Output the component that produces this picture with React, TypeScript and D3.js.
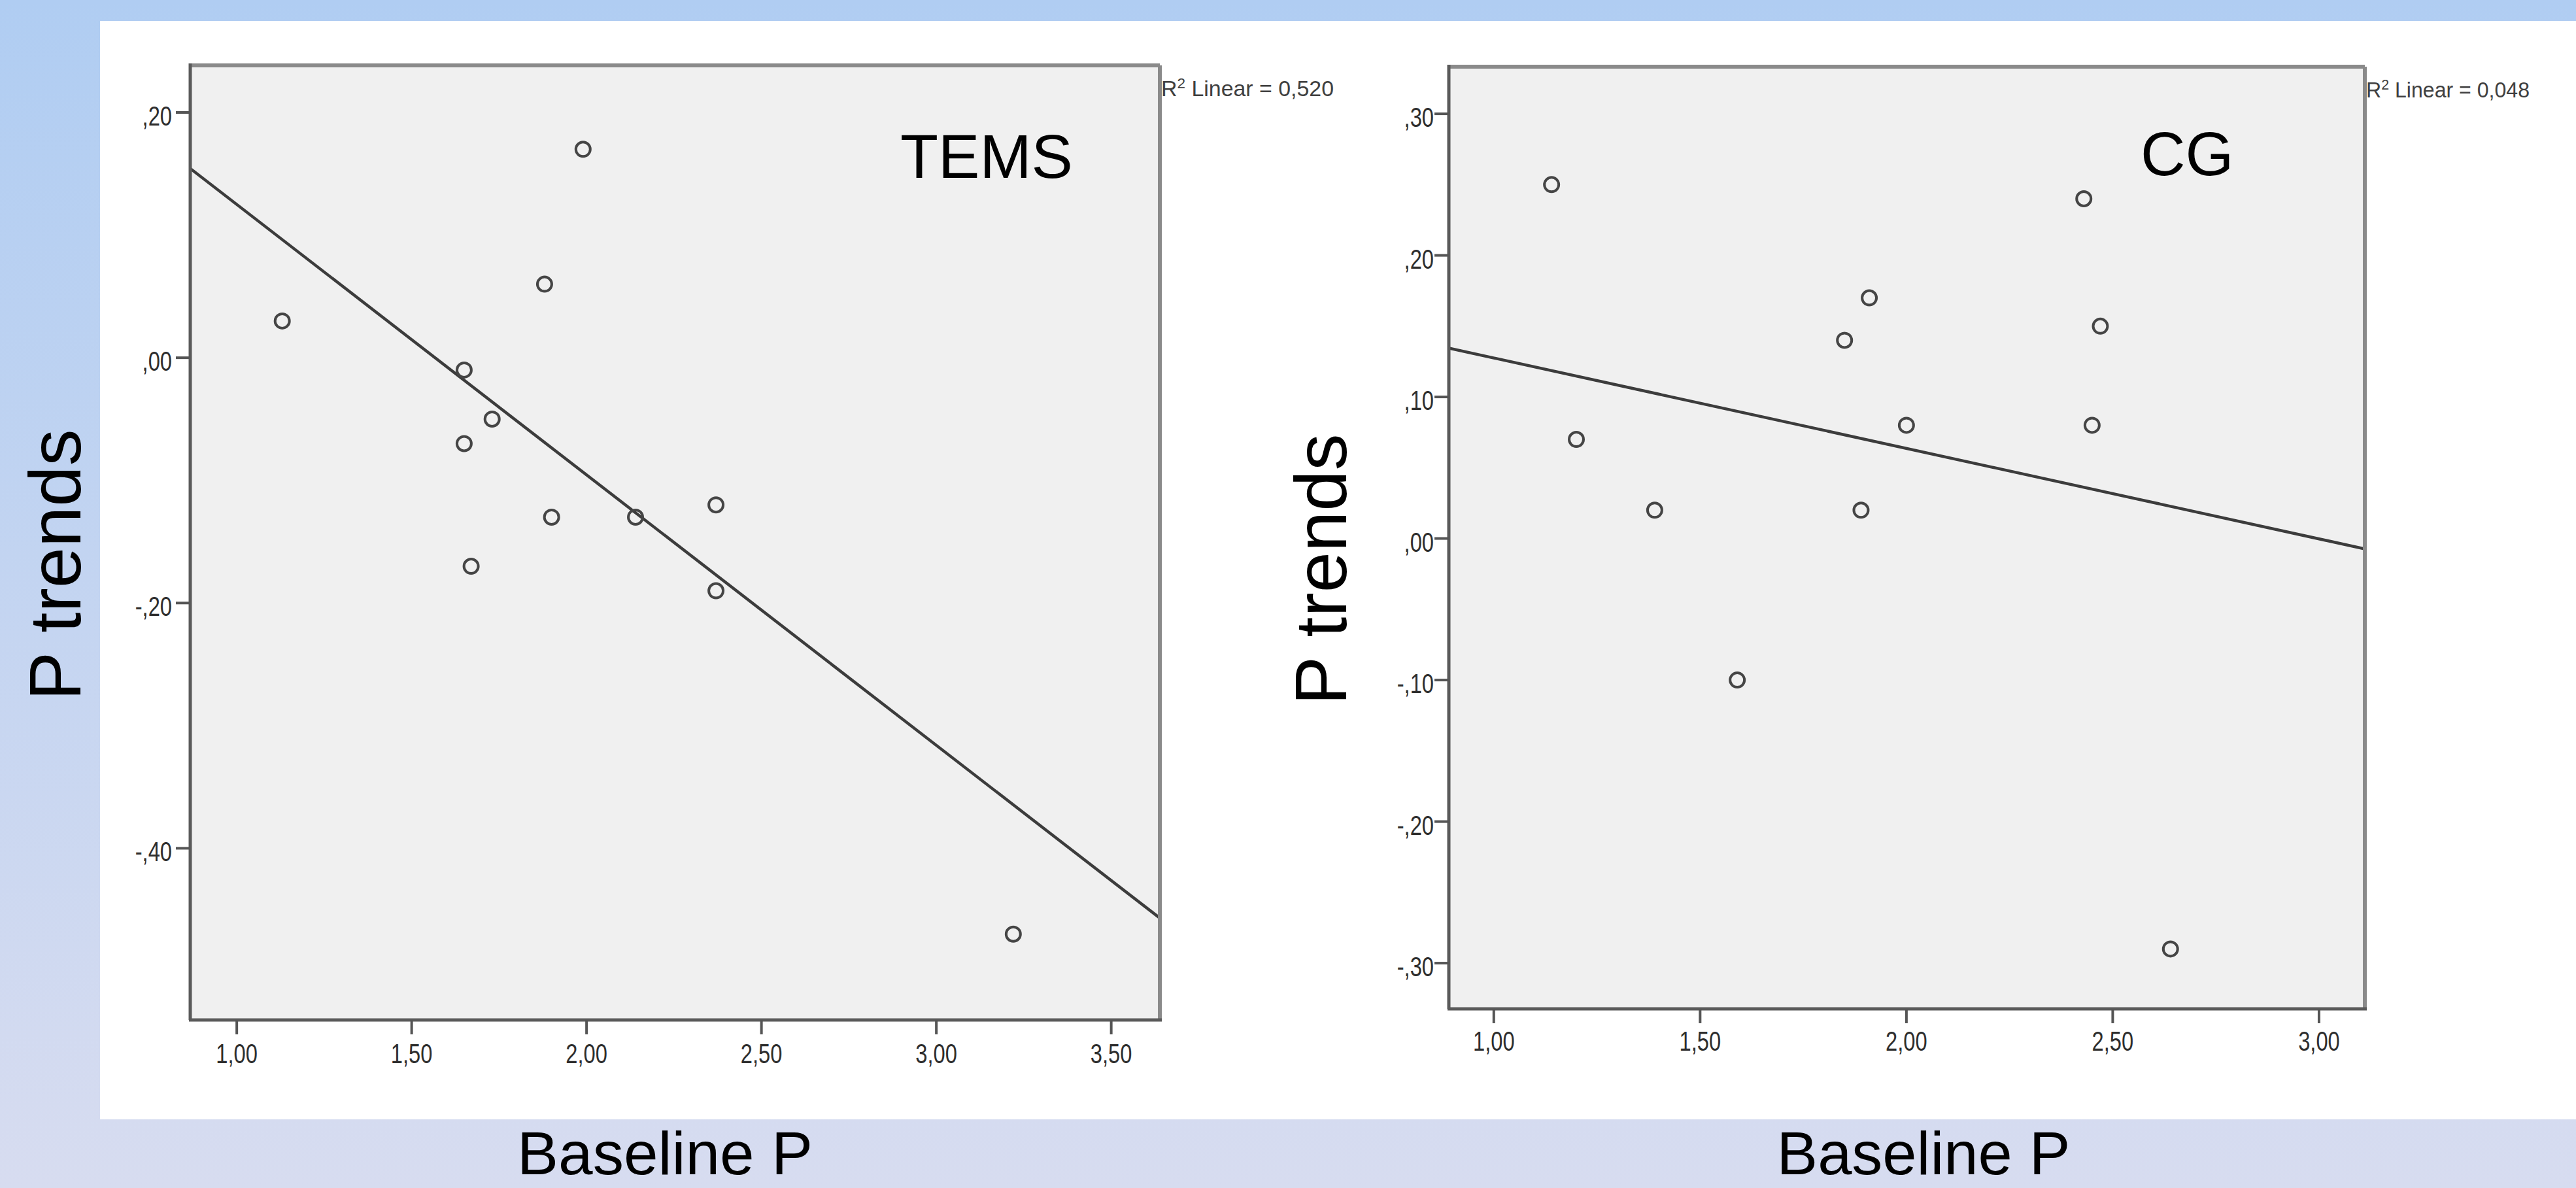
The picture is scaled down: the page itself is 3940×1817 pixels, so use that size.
import React from "react";
import * as d3 from "d3";

// ---- data ----
const temsBaseline = [1.13, 1.65, 1.73, 1.65, 1.88, 1.99, 1.9, 2.14, 1.67, 2.37, 2.37, 3.22];
const temsTrend = [0.03, -0.01, -0.05, -0.07, 0.06, 0.17, -0.13, -0.13, -0.17, -0.12, -0.19, -0.47];
const cgBaseline = [1.14, 1.2, 1.39, 1.59, 1.85, 1.91, 1.89, 2.0, 2.43, 2.47, 2.45, 2.64];
const cgTrend = [0.25, 0.07, 0.02, -0.1, 0.14, 0.17, 0.02, 0.08, 0.24, 0.15, 0.08, -0.29];

const temsXTicks = [1, 1.5, 2, 2.5, 3, 3.5];
const temsXTickLabels = ["1,00", "1,50", "2,00", "2,50", "3,00", "3,50"];
const temsYTicks = [0.2, 0, -0.2, -0.4];
const temsYTickLabels = [",20", ",00", "-,20", "-,40"];
const cgXTicks = [1, 1.5, 2, 2.5, 3];
const cgXTickLabels = ["1,00", "1,50", "2,00", "2,50", "3,00"];
const cgYTicks = [0.3, 0.2, 0.1, 0, -0.1, -0.2, -0.3];
const cgYTickLabels = [",30", ",20", ",10", ",00", "-,10", "-,20", "-,30"];

const panelTitles = ["TEMS", "CG"];
const r2Labels = ["0,520", "0,048"];
const xTitle = "Baseline P";
const yTitle = "P trends";

const W = 3940;
const H = 1817;
const FONT = "'Liberation Sans', Arial, sans-serif";

function fit(xs: number[], ys: number[]) {
  const mx = d3.mean(xs) as number;
  const my = d3.mean(ys) as number;
  let sxy = 0, sxx = 0;
  xs.forEach((x, i) => {
    sxy += (x - mx) * (ys[i] - my);
    sxx += (x - mx) * (x - mx);
  });
  const b = sxy / sxx;
  return { b, a: my - b * mx };
}

type PanelProps = {
  xs: number[];
  ys: number[];
  xDomain: [number, number];
  yDomain: [number, number];
  left: number;
  right: number;
  top: number;
  bottom: number;
  xTicks: number[];
  xTickLabels: string[];
  yTicks: number[];
  yTickLabels: string[];
  title: string;
  titleX: number;
  titleY: number;
  r2: string;
  r2Width: number;
  xLabelOffset: number;
  yLabelGap: number;
};

function Panel(p: PanelProps) {
  const x = d3.scaleLinear().domain(p.xDomain).range([p.left, p.right]);
  const y = d3.scaleLinear().domain(p.yDomain).range([p.bottom, p.top]);
  const { a, b } = fit(p.xs, p.ys);
  const line = d3.line<number>().x((v) => x(v)).y((v) => y(a + b * v));
  const clipId = "clip-" + p.title;
  const tickLen = 22;
  const sx = 0.76;
  return (
    <g>
      <defs>
        <clipPath id={clipId}>
          <rect x={p.left} y={p.top} width={p.right - p.left} height={p.bottom - p.top} />
        </clipPath>
      </defs>
      <rect x={p.left} y={p.top} width={p.right - p.left} height={p.bottom - p.top} fill="#f0f0f0" />
      <path d={line(p.xDomain as number[]) || ""} stroke="#3c3c3c" strokeWidth={4.5} fill="none" clipPath={`url(#${clipId})`} />
      {p.xs.map((v, i) => (
        <circle key={i} cx={x(v)} cy={y(p.ys[i])} r={11} fill="none" stroke="#454545" strokeWidth={4} />
      ))}
      {/* frame */}
      <line x1={p.left} y1={p.top} x2={p.right} y2={p.top} stroke="#8a8a8a" strokeWidth={6} />
      <line x1={p.right} y1={p.top} x2={p.right} y2={p.bottom} stroke="#8a8a8a" strokeWidth={6} />
      <line x1={p.left} y1={p.top - 3} x2={p.left} y2={p.bottom} stroke="#5a5a5a" strokeWidth={5} />
      <line x1={p.left - 2} y1={p.bottom} x2={p.right + 3} y2={p.bottom} stroke="#5a5a5a" strokeWidth={5} />
      {/* x ticks */}
      {p.xTicks.map((t, i) => (
        <g key={"xt" + i}>
          <line x1={x(t)} x2={x(t)} y1={p.bottom} y2={p.bottom + tickLen} stroke="#555" strokeWidth={4} />
          <text
            transform={`translate(${x(t)},${p.bottom + p.xLabelOffset}) scale(${sx},1)`}
            textAnchor="middle"
            fontFamily={FONT}
            fontSize={43}
            fill="#2e2e2e"
          >
            {p.xTickLabels[i]}
          </text>
        </g>
      ))}
      {/* y ticks */}
      {p.yTicks.map((t, i) => (
        <g key={"yt" + i}>
          <line x1={p.left - tickLen} x2={p.left} y1={y(t)} y2={y(t)} stroke="#555" strokeWidth={4} />
          <text
            transform={`translate(${p.left - p.yLabelGap},${y(t) + 20}) scale(${sx},1)`}
            textAnchor="end"
            fontFamily={FONT}
            fontSize={43}
            fill="#2e2e2e"
          >
            {p.yTickLabels[i]}
          </text>
        </g>
      ))}
      <text x={p.titleX} y={p.titleY} fontFamily={FONT} fontSize={95} fill="#000">
        {p.title}
      </text>
      <text
        x={p.right + 2}
        y={p.top + 47}
        fontFamily={FONT}
        fontSize={33}
        fill="#404040"
        textLength={p.r2Width}
        lengthAdjust="spacingAndGlyphs"
      >
        R
        <tspan fontSize={22} dy={-12}>2</tspan>
        <tspan dy={12}> Linear = {p.r2}</tspan>
      </text>
    </g>
  );
}

export default function App() {
  return (
    <svg width={W} height={H} style={{ position: "absolute", left: 0, top: 0 }} xmlns="http://www.w3.org/2000/svg">
      <defs>
        <linearGradient id="bg" x1="0" y1="0" x2="0" y2="1">
          <stop offset="0" stopColor="#b0cdf2" />
          <stop offset="1" stopColor="#d7dcf0" />
        </linearGradient>
      </defs>
      <rect x={0} y={0} width={W} height={H} fill="url(#bg)" />
      <rect x={153} y={32} width={W - 153} height={1712 - 32} fill="#ffffff" />
      <Panel
        xs={temsBaseline}
        ys={temsTrend}
        xDomain={[0.867, 3.639]}
        yDomain={[-0.54, 0.2384]}
        left={291}
        right={1774}
        top={100}
        bottom={1560}
        xTicks={temsXTicks}
        xTickLabels={temsXTickLabels}
        yTicks={temsYTicks}
        yTickLabels={temsYTickLabels}
        title={panelTitles[0]}
        titleX={1377}
        titleY={272}
        r2={r2Labels[0]}
        r2Width={264}
        xLabelOffset={66}
        yLabelGap={28}
      />
      <Panel
        xs={cgBaseline}
        ys={cgTrend}
        xDomain={[0.891, 3.111]}
        yDomain={[-0.3323, 0.3333]}
        left={2216}
        right={3617}
        top={102}
        bottom={1543}
        xTicks={cgXTicks}
        xTickLabels={cgXTickLabels}
        yTicks={cgYTicks}
        yTickLabels={cgYTickLabels}
        title={panelTitles[1]}
        titleX={3274}
        titleY={268}
        r2={r2Labels[1]}
        r2Width={250}
        xLabelOffset={64}
        yLabelGap={23}
      />
      <text transform="translate(123,864) rotate(-90)" textAnchor="middle" fontFamily={FONT} fontSize={112} fill="#000">
        {yTitle}
      </text>
      <text transform="translate(2059,871) rotate(-90)" textAnchor="middle" fontFamily={FONT} fontSize={112} fill="#000">
        {yTitle}
      </text>
      <text x={1017} y={1796} textAnchor="middle" fontFamily={FONT} fontSize={92} fill="#000" textLength={452} lengthAdjust="spacingAndGlyphs">
        {xTitle}
      </text>
      <text x={2942} y={1796} textAnchor="middle" fontFamily={FONT} fontSize={92} fill="#000" textLength={449} lengthAdjust="spacingAndGlyphs">
        {xTitle}
      </text>
    </svg>
  );
}
